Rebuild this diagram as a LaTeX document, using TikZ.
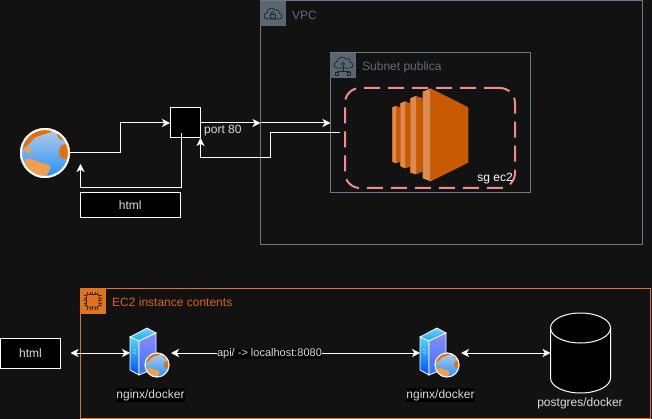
\documentclass[tikz,border=0pt]{standalone}
\usepackage{fontspec}
\setmainfont{Liberation Sans}
\usetikzlibrary{arrows.meta}
\definecolor{bg}{HTML}{121212}
\definecolor{grp}{HTML}{6C7A85}
\definecolor{grpfill}{HTML}{5A6770}
\definecolor{grptxt}{HTML}{5F6D76}
\definecolor{grpline}{HTML}{1E272D}
\definecolor{ecline}{HTML}{E07420}
\definecolor{ecfill}{HTML}{E0741C}
\definecolor{ectxt}{HTML}{D8661A}
\definecolor{sgred}{HTML}{F08C8C}
\definecolor{ecdark}{HTML}{C85A04}
\definecolor{eclight}{HTML}{DE8A4C}
\definecolor{txt}{HTML}{DDDDDD}
\definecolor{contin}{HTML}{EE9F50}
\definecolor{contdark}{HTML}{E2700F}
\definecolor{seatop}{HTML}{B9CDE2}
\definecolor{seamid}{HTML}{7FB0E6}
\definecolor{seabot}{HTML}{1E90FF}
\tikzset{
  box/.style={draw=white,line width=1pt,fill=black,text=txt,inner sep=0pt,outer sep=0pt},
  region/.style={draw=#1,line width=1pt,inner sep=0pt,outer sep=0pt},
  hole/.style={inner sep=0pt,outer sep=0pt},
  lbl/.style={text=txt,inner sep=0pt,font=\fontsize{12}{14}\selectfont},
  wire/.style={draw=white,line width=1pt},
  tip/.style={-{Stealth[length=8pt,width=8pt,inset=2.2pt]}},
  tips/.style={{Stealth[length=8pt,width=8pt,inset=2.2pt]}-{Stealth[length=8pt,width=8pt,inset=2.2pt]}},
  gicon/.style={draw=grpline,line width=0.8pt},
}
\newcommand{\myglobe}[3]{%
  \begin{scope}[shift={(#1,#2)},x=#3pt,y=#3pt]
    \begin{scope}
      \clip (0,0) circle (1);
      \shade[top color=seatop,middle color=seamid,bottom color=seabot] (-1,-1) rectangle (1,1);
      \fill[contdark] plot[smooth cycle,tension=.6] coordinates {(-1.1,0.1) (-0.62,0.38) (-0.4,0.62) (0,0.76) (0.25,0.85) (0.2,1.1) (-0.9,1.1)};
      \fill[contin] plot[smooth cycle,tension=.6] coordinates {(-0.72,0.25) (-0.55,0.12) (-0.65,-0.02) (-0.8,0.08)};
      \fill[contin] plot[smooth cycle,tension=.6] coordinates {(-0.65,-0.22) (-0.2,-0.37) (0.15,-0.47) (0.2,-0.65) (-0.1,-1.05) (-0.5,-0.85) (-0.85,-0.4)};
      \fill[contdark] plot[smooth cycle,tension=.6] coordinates {(0.62,0.25) (0.58,-0.1) (0.8,-0.25) (1.1,-0.1) (1.1,0.35) (0.8,0.35)};
      \fill[contdark] plot[smooth cycle,tension=.6] coordinates {(0.5,0.9) (0.52,0.62) (0.8,0.5) (0.95,0.7) (0.7,1)};
    \end{scope}
    \draw[white,line width=#3*0.08pt] (0,0) circle (0.96);
  \end{scope}}
\newcommand{\myserver}[1]{%
  \begin{scope}[shift={(#1,0)}]
    \draw[white,line width=.8pt,top color=cyan!60!blue!50!white,bottom color=blue!30!cyan] (130,337)--(147,328)--(156,333)--(139,341)--cycle;
    \draw[white,line width=.8pt,top color=blue!20!cyan!70!white,bottom color=blue!70!cyan] (130,337)--(139,341)--(139,375)--(130,370)--cycle;
    \draw[white,line width=.8pt,top color=blue!45!white,bottom color=blue!70!cyan!80!white] (139,341)--(156,333)--(156,368)--(139,375)--cycle;
    \draw[white,line width=.4pt] (133,349)--(136,351) (133,352)--(136,354);
  \end{scope}
  \myglobe{157+#1}{365}{12.5}}
\begin{document}
\begin{tikzpicture}[x=1pt,y=-1pt]
  \path[use as bounding box,fill=bg] (0,0) rectangle (652,419);

  % regions
  \node[region=grp,minimum width=381.5pt,minimum height=244pt] (vpc) at (451.25,123) {};
  \node[region=grp,minimum width=199.5pt,minimum height=140pt] (subnet) at (430.25,123) {};
  \node[region=ecline,minimum width=569.5pt,minimum height=129.5pt] (inst) at (365.25,353.25) {};
  \node[hole,draw=sgred,line width=2pt,dash pattern=on 16pt off 8pt,rounded corners=15pt,minimum width=170pt,minimum height=100pt] (sg) at (430,138) {};

  % group header icons
  \fill[grpfill] (260,1) rectangle (285.5,26);
  \begin{scope}[shift={(260,1)}]
    \draw[gicon] (7,18) .. controls (3,18) and (3,12) .. (7,12) .. controls (7,8) and (12,5) .. (15,9) .. controls (18,8) and (20,10) .. (19,12) .. controls (23,13) and (23,18) .. (19,18) -- cycle;
    \draw[gicon,line width=.7pt] (10,13) rectangle (15,17);
    \draw[gicon,line width=.7pt] (11,13) .. controls (11,10) and (14,10) .. (14,13);
  \end{scope}
  \fill[grpfill] (330,53) rectangle (355.5,78);
  \begin{scope}[shift={(330,53)}]
    \draw[gicon] (7,15) .. controls (3,15) and (3,9) .. (7,9) .. controls (7,5) and (13,2) .. (16,6) .. controls (19,5) and (21,7) .. (20,9) .. controls (24,10) and (24,15) .. (20,15) -- cycle;
    \draw[gicon] (13,11) circle (1.6);
    \draw[gicon] (13,13) -- (13,18) (7,18) -- (19,18) (7,18)--(7,19) (19,18)--(19,19);
    \draw[gicon] (5.5,19) rectangle (8.5,22) (17.5,19) rectangle (20.5,22);
  \end{scope}
  \fill[ecfill] (80,288) rectangle (105.5,313.5);
  \begin{scope}[shift={(80,288)}]
    \draw[draw=black!70!ecfill,line width=.8pt,rounded corners=1pt] (6.5,6.5) rectangle (19,19);
    \foreach \p in {8,10.5,13,15.5,18}{
      \draw[black!70!ecfill,line width=.6pt] (\p-.5,3.5)--(\p-.5,6.5) (\p-.5,19)--(\p-.5,22) (3.5,\p-.5)--(6.5,\p-.5) (19,\p-.5)--(22,\p-.5);
    }
  \end{scope}

  \node[lbl,text=grptxt,anchor=west] (vpclbl) at (292,15) {VPC};
  \node[lbl,text=grptxt,anchor=west] (subnetlbl) at (362,67) {Subnet publica};
  \node[lbl,text=ectxt,anchor=west] (instlbl) at (112,302) {EC2 instance contents};

  % EC2 icon
  \begin{scope}[shift={(385,80)},x=.3333pt,y=-.3333pt]
    \fill[ecdark] (22,82)--(33,78)--(46,82)--(46,245)--(33,250)--(22,245)--cycle;
    \fill[eclight] (22,82)--(33,78)--(33,250)--(22,245)--cycle;
    \fill[ecdark] (46,70)--(60,64)--(76,70)--(76,260)--(60,265)--(46,258)--cycle;
    \fill[eclight] (46,70)--(60,64)--(60,265)--(46,258)--cycle;
    \fill[ecdark] (76,55)--(93,48)--(113,55)--(113,275)--(93,283)--(76,278)--cycle;
    \fill[eclight] (76,55)--(93,48)--(93,283)--(76,278)--cycle;
    \fill[ecdark] (137,25)--(250,82)--(250,248)--(137,304)--cycle;
    \fill[eclight] (113,35)--(137,25)--(137,304)--(113,295)--cycle;
  \end{scope}
  \node[lbl,text=white,anchor=east] (sglbl) at (513,179) {sg ec2};

  % upper flow
  \node[hole,circle,minimum size=50pt] (web) at (45,153) {};
  \myglobe{45}{153}{25}
  \node[box,minimum width=30.5pt,minimum height=30pt] (lb) at (185.25,123) {};
  \node[box,minimum width=100pt,minimum height=25pt,font=\fontsize{12}{14}\selectfont] (html1) at (130.25,205.5) {\raisebox{-.7pt}{html}};
  \node[lbl,anchor=west] (port) at (204,131) {port 80};
  \coordinate (lbin) at (181,133);
  \coordinate (webin) at (80.5,164);
  \coordinate (sgout) at (340,133);

  \draw[wire,tip] (web.east) -- (120,153) -- (120,123) -- (lb.west);
  \draw[wire,tip] (lbin) -- (181,188) -- (80.5,188) -- (webin);
  \draw[wire,tip] (lb.east) -- (vpc.west);
  \draw[wire,tip] (vpc.west) -- (subnet.west);
  \draw[wire,tip] (sgout) -- (270.5,133) -- (270.5,158) -- (200.5,158) -- (lb.south east);

  % lower flow
  \node[box,minimum width=60pt,minimum height=30pt,font=\fontsize{12}{14}\selectfont] (html2) at (30.5,353) {html};
  \node[hole,minimum width=40pt,minimum height=50pt] (s1) at (150,353) {};
  \node[hole,minimum width=40pt,minimum height=50pt] (s2) at (440,353) {};
  \myserver{0}
  \myserver{290}
  \node[hole,minimum width=60pt,minimum height=80pt] (db) at (580.5,353) {};
  \draw[white,line width=1pt,fill=black] (db.north west)++(0,15) arc[start angle=180,end angle=0,x radius=30,y radius=-15] -- ++(0,50) arc[start angle=0,end angle=-180,x radius=30,y radius=-15] -- cycle;
  \draw[white,line width=1pt] (db.north west)++(0,15) arc[start angle=180,end angle=360,x radius=30,y radius=-15];

  \draw[wire,tips] ([xshift=10pt]html2.east) -- (s1.west);
  \draw[wire,tips] ([xshift=1pt]s1.east) -- (s2.west);
  \draw[wire,tips] ([xshift=1pt]s2.east) -- (db.west);
  \node[lbl,fill=black,font=\fontsize{11}{13}\selectfont] (api) at (269.5,354) {api/ -> localhost:8080};
  \node[lbl,fill=black,inner ysep=1.5pt] (n1) at (150.5,395) {nginx/docker};
  \node[lbl,fill=black,inner ysep=1.5pt] (n2) at (440.5,395) {nginx/docker};
  \node[lbl] (pg) at (580,403) {postgres/docker};
\end{tikzpicture}
\end{document}
